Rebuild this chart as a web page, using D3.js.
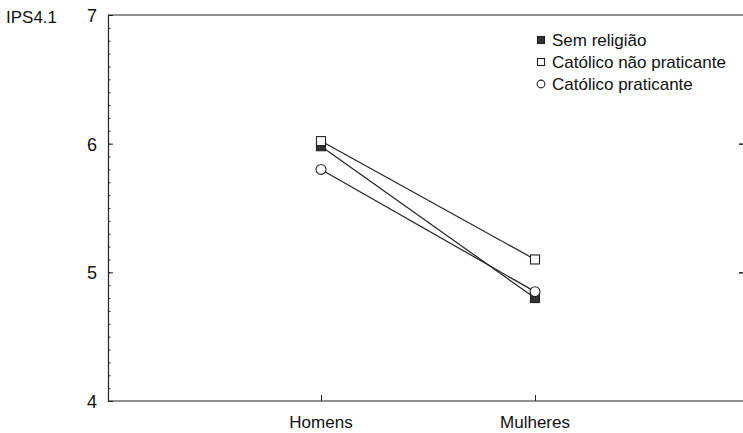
<!DOCTYPE html>
<html>
<head>
<meta charset="utf-8">
<script src="https://d3js.org/d3.v7.min.js"></script>
<style>
  body { margin: 0; background: #fff; }
  text { font-family: "Liberation Sans Narrow", "Liberation Sans", Arial, sans-serif; font-size: 17px; fill: #111; }
</style>
</head>
<body>
<script>
var w = 743, h = 433;
var categories = ["Homens", "Mulheres"];
var series = ["Sem religião", "Católico não praticante", "Católico praticante"];
var semReligiao = [5.98, 4.80];
var naoPraticante = [6.02, 5.10];
var praticante = [5.80, 4.85];
var yTicks = [4, 5, 6, 7];
var values = [semReligiao, naoPraticante, praticante];
var shapes = ["filled", "square", "circle"];

var mLeft = 108, mRight = 745, mTop = 15, mBottom = 401;

var svg = d3.select("body").append("svg")
    .attr("width", w).attr("height", h);

// category positions as in the reference
var x = d3.scaleOrdinal().domain(categories).range([321, 535]);
var y = d3.scaleLinear().domain([4, 7]).range([mBottom, mTop]);

// frame
svg.append("line").attr("x1", mLeft).attr("x2", mRight).attr("y1", mTop).attr("y2", mTop)
    .attr("stroke", "#222").attr("stroke-width", 1.2);
svg.append("line").attr("x1", mLeft).attr("x2", mRight).attr("y1", mBottom).attr("y2", mBottom)
    .attr("stroke", "#222").attr("stroke-width", 1.2);

// left axis with minor ticks
var minor = d3.range(40, 71).map(function(d){ return d / 10; });
svg.append("g").attr("transform", "translate(" + mLeft + ",0)")
    .call(d3.axisRight(y).tickValues(minor).tickSize(2.5).tickFormat(""))
    .call(function(g){ g.select(".domain").remove(); })
    .selectAll("line").attr("stroke", "#333");
svg.append("g").attr("transform", "translate(" + mLeft + ",0)")
    .call(d3.axisRight(y).tickValues(yTicks).tickSize(5).tickFormat(""))
    .call(function(g){ g.select(".domain").attr("stroke", "#222").attr("stroke-width", 1.2); })
    .selectAll("line").attr("stroke", "#222");
svg.selectAll(".ylab").data(yTicks).enter().append("text")
    .attr("class", "ylab")
    .attr("x", 97).attr("y", function(d){ return y(d) + 7; })
    .attr("text-anchor", "end").style("font-size", "18px")
    .text(function(d){ return d; });

// right ticks
svg.append("g").attr("transform", "translate(743,0)")
    .call(d3.axisLeft(y).tickValues([5, 6]).tickSize(4).tickFormat(""))
    .call(function(g){ g.select(".domain").remove(); })
    .selectAll("line").attr("stroke", "#222").attr("stroke-width", 1.5);

// bottom ticks
svg.append("g").attr("transform", "translate(0," + mBottom + ")")
    .call(d3.axisTop(x).tickSize(6).tickFormat(""))
    .call(function(g){ g.select(".domain").remove(); })
    .selectAll("line").attr("stroke", "#222");
svg.selectAll(".xlab").data(categories).enter().append("text")
    .attr("class", "xlab")
    .attr("x", function(d){ return x(d); }).attr("y", 428)
    .attr("text-anchor", "middle")
    .text(function(d){ return d; });

svg.append("text").attr("x", 6).attr("y", 23).text("IPS4.1");

// lines
var line = d3.line().x(function(d, i){ return x(categories[i]); }).y(function(d){ return y(d); });
svg.selectAll(".series").data(values).enter().append("path")
    .attr("d", line).attr("fill", "none").attr("stroke", "#222").attr("stroke-width", 1.2);

function marker(g, shape, cx, cy, s) {
    if (shape === "circle") {
        g.append("circle").attr("cx", cx).attr("cy", cy).attr("r", s * 0.55)
            .attr("fill", "#fff").attr("stroke", "#222").attr("stroke-width", 1.1);
    } else {
        g.append("rect").attr("x", cx - s / 2).attr("y", cy - s / 2).attr("width", s).attr("height", s)
            .attr("fill", shape === "filled" ? "#333" : "#fff").attr("stroke", "#222").attr("stroke-width", 1.1);
    }
}

values.forEach(function(vals, k){
    vals.forEach(function(v, i){
        marker(svg, shapes[k], x(categories[i]), y(v), 9);
    });
});

// legend
series.forEach(function(s, k){
    var ly = 40 + k * 22;
    marker(svg, shapes[k], 541, ly, 7);
    svg.append("text").attr("x", 552).attr("y", ly + 6).text(s);
});
</script>
</body>
</html>
